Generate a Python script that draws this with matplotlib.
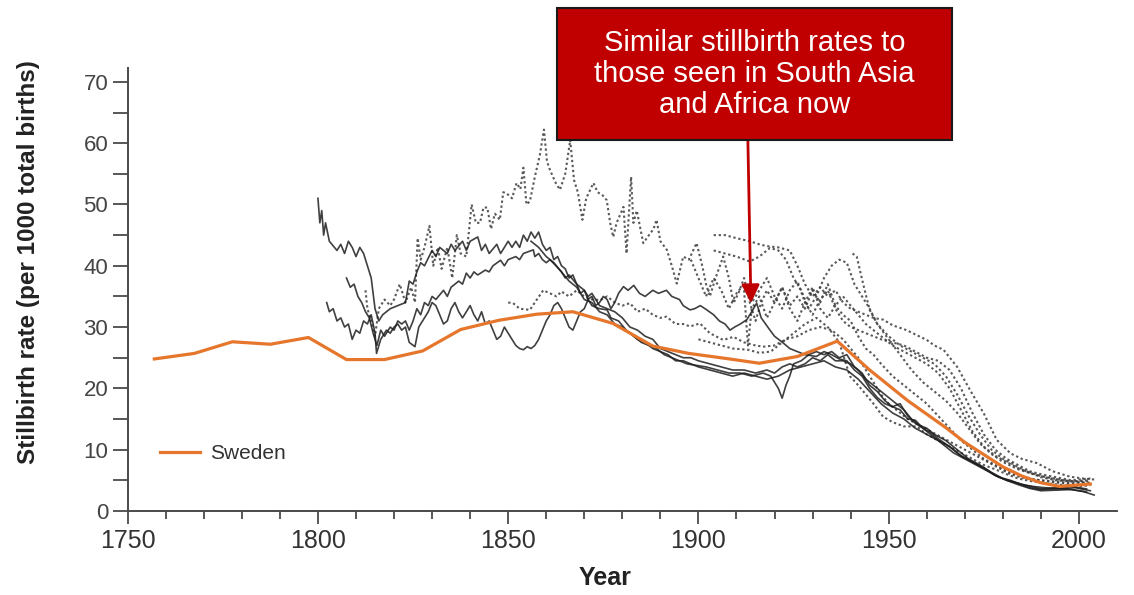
import matplotlib
matplotlib.use("Agg")
import matplotlib.pyplot as plt
from matplotlib import font_manager
from matplotlib.patches import Rectangle

plt.rcParams["font.family"] = ["Liberation Sans", "DejaVu Sans"]

# Sweden (orange, highlighted)
SWEDEN = [(1757, 24.8), (1767.5, 25.7), (1777.5, 27.6), (1787.5, 27.2), (1797.5, 28.3),
          (1807.5, 24.7), (1817.5, 24.7), (1827.5, 26.1), (1837.5, 29.6), (1847.5, 31.1),
          (1857.5, 32.1), (1867, 32.5), (1877.5, 30.6), (1888, 26.9), (1897.5, 25.7),
          (1907, 24.9), (1916, 24.1), (1926, 25.2), (1936.5, 27.7), (1945, 23.0),
          (1955, 18.0), (1960, 15.8), (1965, 13.6), (1970, 11.2), (1975, 9.2),
          (1980, 7.2), (1985, 5.7), (1990, 4.6), (1995, 4.0), (2003, 4.4)]

# other countries, solid traces
SOLID_A = [(1800, 51), (1800.5, 47), (1801, 49), (1801.5, 45), (1802, 47), (1803, 44),
           (1805, 42.5), (1806, 43.5), (1807, 42), (1808, 44), (1809, 43), (1810, 41.5),
           (1811, 43), (1812, 42), (1813, 40), (1814, 38), (1815, 33), (1816, 31),
           (1817, 32), (1819, 33), (1821, 33.5), (1823, 34), (1824, 37.5), (1825, 37),
           (1826, 39), (1827, 40.5), (1828, 40), (1830, 42.5), (1831, 41.5), (1832, 43),
           (1834, 42), (1835, 43.5), (1836, 42.5), (1838, 44), (1839, 42.5), (1840, 44),
           (1842, 44.7), (1843, 42.5), (1844, 43.5), (1845, 42), (1847, 43.5), (1848, 42),
           (1850, 44), (1851, 43), (1852, 44), (1853, 43), (1854, 45), (1855, 44),
           (1856, 45.5), (1857, 44.5), (1858, 45.5), (1859, 43.5), (1860, 42.5), (1861, 43),
           (1862, 41), (1863, 41.5), (1864, 40), (1865, 39.5), (1866, 38), (1867, 38.5),
           (1868, 37), (1870, 36), (1871, 35), (1872, 35.5), (1874, 33.5), (1876, 33),
           (1878, 32.5), (1880, 31.5), (1882, 30), (1884, 29.5), (1886, 28.5), (1888, 28),
           (1890, 26.5), (1892, 26), (1894, 25.5), (1896, 25), (1898, 25), (1900, 24.5),
           (1903, 24), (1906, 23.5), (1909, 23), (1912, 23), (1915, 22.5), (1918, 23),
           (1920, 22.5), (1922, 23.5), (1924, 24), (1926, 23.5), (1928, 24), (1930, 25),
           (1932, 24.5), (1934, 25.5), (1936, 24.5), (1938, 24.5), (1940, 24), (1942, 23),
           (1944, 21.5), (1946, 20.5), (1948, 19.5), (1950, 18.5), (1952, 17.5), (1954, 16.5),
           (1956, 15), (1958, 14), (1960, 13.5), (1962, 12.5), (1965, 11.5), (1968, 10),
           (1971, 8.5), (1974, 7.5), (1977, 6.3), (1980, 5.3), (1983, 4.7), (1986, 4.2),
           (1990, 3.6), (1994, 3.8), (1998, 3.5), (2001, 3.2), (2004, 2.6)]
SOLID_B = [(1807.5, 38), (1808.5, 36.5), (1809.5, 37), (1810.5, 35), (1811.5, 34),
           (1812.5, 32.5), (1813.5, 31.5), (1814.5, 29), (1815.5, 27), (1816.5, 29.5),
           (1817.5, 28.5), (1819, 30), (1820, 29.5), (1821, 31), (1822, 30.5), (1823, 31),
           (1824, 29.5), (1825, 31), (1826, 33), (1827, 32), (1828, 34), (1829, 33.5),
           (1830, 35), (1831, 34.5), (1833, 36), (1834, 35), (1835, 36.5), (1837, 37.5),
           (1838, 37), (1839, 38.8), (1840, 38), (1841, 39), (1842, 38.5), (1844, 39.3),
           (1845, 39), (1846, 40), (1848, 40.9), (1849, 40), (1850, 41), (1852, 41.5),
           (1853, 41), (1854, 42), (1856.6, 42.6), (1857, 41.5), (1858, 42), (1859, 41),
           (1860, 40.5), (1861, 41), (1862.7, 39.9), (1864, 39), (1865, 38), (1866, 38.5),
           (1868, 37), (1869, 35.5), (1870, 36), (1871, 34.5), (1872, 33.5), (1874, 33),
           (1876, 32.8), (1877, 31.5), (1879, 31), (1881, 29.5), (1883, 28.5), (1885, 27.5),
           (1887, 27), (1889, 26.5), (1891, 25.5), (1893, 25), (1895, 24.5), (1897, 24),
           (1899, 23.8), (1902, 23.5), (1905, 23), (1908, 22.5), (1911, 22.5), (1914, 22),
           (1917, 22.5), (1919, 22), (1920, 21), (1921, 20), (1922, 18.4), (1923, 20.5),
           (1924, 22), (1925, 24), (1927, 24.5), (1929, 25.5), (1931, 26), (1933, 25.5),
           (1935, 26), (1937, 25), (1939, 25.5), (1941, 23.5), (1943, 22.5), (1945, 20.5),
           (1947, 19.5), (1949, 18), (1951, 17), (1953, 16.5), (1955, 15), (1957, 14.8),
           (1959, 13.5), (1961, 12.5), (1964, 11), (1967, 9.5), (1970, 8.5), (1973, 7.5),
           (1976, 6.5), (1979, 5.5), (1982, 5), (1985, 4.3), (1988, 4), (1991, 3.8),
           (1995, 3.6), (1999, 3.8), (2003, 3.3)]
SOLID_C = [(1802.3, 34), (1803, 32.5), (1804, 33), (1805, 31), (1806, 31.5), (1807, 30),
           (1808, 30.5), (1809, 28), (1810, 29.5), (1811, 29), (1812, 31), (1813, 30.5),
           (1814, 32), (1815, 29), (1815.4, 25.7), (1816.5, 28), (1818, 29.5), (1819, 29),
           (1820, 30), (1821, 30.5), (1822, 29.5), (1823, 30), (1824, 27.5), (1825.5, 26.8),
           (1826.5, 30), (1827.5, 31), (1829, 32.5), (1830, 34), (1831, 33.5), (1832, 32),
           (1833, 30.5), (1834, 31), (1835, 33), (1836, 34), (1837, 32.5), (1838, 31.5),
           (1839, 32.5), (1840, 33.5), (1841, 32), (1842, 31), (1843, 32.5), (1844, 30.5),
           (1845, 31), (1846, 29.5), (1847, 28), (1848, 28.5), (1849, 30), (1850, 29),
           (1851, 28), (1852, 27), (1853, 26.5), (1854, 26.3), (1855, 26.8), (1856, 26.5),
           (1857, 27), (1858, 28), (1859, 29.5), (1860, 31), (1861, 32), (1862, 33.5),
           (1863, 34), (1864, 33), (1865, 31.5), (1866, 30), (1867, 29.5), (1868, 31),
           (1869, 32.5), (1870, 33), (1871, 34.5), (1872, 35), (1873, 33.5), (1874, 34),
           (1875, 35), (1876, 34.5), (1877, 33), (1878, 34), (1879, 35.5), (1880.3, 36.6),
           (1881.5, 36), (1883, 36.8), (1884.5, 35.5), (1886, 35), (1888, 36), (1889.5, 35.5),
           (1891.6, 36), (1893, 35), (1895, 34.5), (1896, 33.5), (1897.8, 32.8), (1899, 33),
           (1900.5, 33.5), (1902.2, 32.8), (1904, 32), (1905.5, 31), (1907, 30.5),
           (1908.3, 29.5), (1909.5, 30), (1911, 30.5), (1912.7, 31.2), (1914, 32.5),
           (1915.3, 33.9), (1916.5, 31.5), (1918.8, 29.5), (1920, 28.5), (1922.3, 27.4),
           (1924, 26.5), (1926, 26), (1928, 25.5), (1931, 25.2), (1933, 26), (1935, 25.5),
           (1937, 24.8), (1939, 24.5), (1941, 23), (1943, 22), (1945, 20), (1947, 18.5),
           (1949, 17.5), (1951, 17), (1953, 17.5), (1955, 15.5), (1957, 14.3), (1959, 13.5),
           (1961, 12.8), (1963, 11.8), (1966, 10.5), (1969, 9), (1972, 8), (1975, 7),
           (1978, 5.8), (1981, 5), (1984, 4.5), (1987, 3.8), (1990, 3.5), (1994, 3.6),
           (1998, 4), (2002, 3.6)]
SOLID_D = [(1856, 44), (1858, 43), (1860, 41.5), (1862, 40.5), (1864, 39), (1866, 37.5),
           (1868, 36.5), (1870, 34.5), (1872, 34), (1874, 32.5), (1876, 32), (1878, 30.5),
           (1880, 30), (1882, 29), (1884, 28), (1886, 27.5), (1888, 26.5), (1890, 26),
           (1892, 25.5), (1894, 24.5), (1896, 24.5), (1898, 24), (1900, 23.5), (1903, 23),
           (1906, 22.5), (1909, 22), (1912, 22.5), (1915, 22), (1918, 21.5), (1921, 22),
           (1924, 23), (1927, 23.5), (1930, 24), (1933, 24.5), (1936, 23.5), (1939, 23),
           (1942, 21.5), (1945, 19.5), (1948, 17.5), (1951, 16), (1954, 15), (1957, 13.5),
           (1960, 12.5), (1963, 11.5), (1966, 10.5), (1969, 9), (1972, 8), (1975, 7),
           (1978, 5.8), (1981, 5), (1984, 4.3), (1987, 3.7), (1990, 3.3), (1994, 3.4),
           (1998, 3.5), (2002, 3.1)]

# other countries, dotted traces
DOT_A = [(1812.5, 36), (1813, 33), (1814, 31), (1815, 28.5), (1816, 33), (1817.5, 34.5),
         (1819, 33.5), (1820, 34.5), (1821.5, 37), (1823, 34), (1824.5, 36.5), (1825.5, 34),
         (1826.2, 44.5), (1827, 41), (1828, 43), (1829.3, 46.5), (1830.3, 40), (1831.5, 43),
         (1832.5, 39.5), (1834, 43), (1835.3, 38), (1836.5, 45), (1837.5, 42), (1839, 41.5),
         (1840.4, 50), (1841.5, 47), (1842.6, 47), (1843.5, 49.5), (1844.5, 49.5),
         (1845.5, 46), (1846.5, 48.5), (1847.8, 47.5), (1848.7, 52), (1849.6, 51.8),
         (1851, 51), (1852.2, 53.5), (1853.2, 52.5), (1854, 56), (1854.8, 50), (1855.7, 50.5),
         (1857, 54.5), (1858.3, 58), (1859.4, 62.2), (1860.2, 57), (1861, 55.6),
         (1862.5, 53.5), (1863.6, 52.4), (1865, 55), (1866.3, 60.5), (1867.3, 54),
         (1868.3, 52), (1869.5, 47.5), (1870.5, 51), (1872.4, 53.5), (1873.5, 52),
         (1874.8, 51.5), (1875.9, 50.7), (1876.8, 47), (1877.6, 44.7), (1878.5, 47),
         (1880.3, 49.6), (1881.1, 42), (1882.3, 54.5), (1882.9, 47), (1883.8, 49),
         (1885.5, 43.7), (1887, 45), (1888.2, 46), (1889, 47.5), (1890, 44), (1891.7, 42.6),
         (1893, 40), (1894.3, 37.1), (1896, 41.5), (1897.5, 41), (1899.5, 43.7), (1901, 40),
         (1902, 37), (1903, 35), (1904.5, 38), (1906.5, 41.5), (1908, 38), (1909.2, 33.9),
         (1910.5, 35.5), (1912, 38), (1913.5, 34), (1915, 31), (1916.5, 34), (1918, 36),
         (1920, 34), (1922, 36.5), (1924, 33.5), (1926, 35), (1928, 33), (1930, 36),
         (1932, 34), (1934, 37), (1936, 33.5), (1938, 35), (1940, 33.5), (1942, 32),
         (1944, 30.5), (1946, 29.5), (1948, 28.5), (1951, 27), (1954, 26), (1957, 25),
         (1960, 24), (1963, 22.5), (1966, 20), (1969, 16.5), (1972, 13), (1975, 10.5),
         (1978, 9), (1981, 8), (1984, 7), (1987, 6.3), (1990, 5.5), (1994, 5), (1998, 4.8),
         (2002, 5)]
DOT_B = [(1904, 45), (1907, 45), (1910, 44.5), (1913.5, 44), (1916, 43.5), (1918, 43.2),
         (1921, 43), (1924, 42.5), (1926, 40), (1928, 37), (1930, 35), (1932, 36.5),
         (1934, 35), (1936, 36), (1938, 34), (1940, 33), (1942, 32.5), (1944, 32),
         (1946, 31.5), (1948.6, 31.2), (1951, 30.3), (1954.7, 29.5), (1957, 28.8),
         (1960, 27.9), (1962, 27), (1964.4, 26.3), (1968, 23.5), (1971.4, 19.7), (1975, 15.9),
         (1978.4, 11.6), (1982, 9.4), (1985, 8.5), (1989, 7.8), (1993, 6.5), (1997.6, 5.6),
         (2001, 5.3), (2004.7, 5.1)]
DOT_C = [(1904, 42.5), (1907, 42), (1910, 41.5), (1913.5, 40.7), (1916, 41.5),
         (1918.8, 42.9), (1921, 42.5), (1923, 41), (1925, 38), (1927, 36), (1929, 33),
         (1931, 35), (1933, 38), (1935, 40), (1937, 41), (1939, 40.5), (1941, 37), (1943, 35),
         (1945, 33), (1947, 30.5), (1950, 28.5), (1953, 27), (1956, 26), (1959, 25),
         (1962, 24), (1965, 22), (1968, 19), (1971, 15.5), (1974, 12.5), (1977, 10),
         (1980, 8.5), (1983, 7.5), (1986, 6.5), (1990, 5.7), (1994, 5.2), (1998, 4.8),
         (2003, 4.6)]
DOT_D = [(1940.5, 42), (1941.6, 41.5), (1943.3, 37), (1945, 32.8), (1947, 30.5), (1950, 28),
         (1953, 25.5), (1956, 23), (1959, 21), (1962, 19.5), (1965, 18), (1968, 16),
         (1971, 13.5), (1974, 11), (1977, 9.3), (1980, 8), (1984, 6.8), (1988, 6),
         (1992, 5.4), (1996, 5), (2000, 4.8), (2003, 4.9)]
DOT_E = [(1850, 34), (1851.3, 33.9), (1853, 33), (1855.7, 32.8), (1857, 34), (1859.2, 36),
         (1861, 35.5), (1862.7, 35), (1864, 35.8), (1866, 35), (1868, 36), (1870, 35),
         (1872, 34.5), (1874.2, 34.4), (1876, 35), (1878, 34), (1880, 33.5), (1882, 33.9),
         (1884, 32.5), (1886, 33), (1888, 32), (1890, 31.5), (1891.6, 31.7), (1894, 30.5),
         (1896, 30.5), (1897.8, 30.1), (1900.4, 30.6), (1903, 29), (1906.5, 27.9),
         (1909.2, 28.4), (1912, 27.5), (1915, 27), (1917, 26.8), (1920, 27), (1923, 28),
         (1926, 28.5), (1929, 29.5), (1932, 30), (1935, 29.5), (1938, 28), (1940, 26.5),
         (1942, 25), (1944, 23), (1946, 21), (1948, 19), (1950, 17.5), (1952, 16.5),
         (1955, 15), (1958, 14), (1961, 13), (1964, 12), (1967, 11), (1970, 10), (1973, 9),
         (1976, 8), (1979, 7), (1982, 6), (1986, 5.3), (1990, 5), (1994, 4.8), (1998, 4.5),
         (2002, 4.6)]
DOT_F = [(1900, 28), (1903, 27.5), (1906, 27), (1909, 26.5), (1913, 26.3), (1916, 25.8),
         (1919, 26), (1922, 27.5), (1925, 29), (1928, 30.5), (1931, 31.5), (1934, 30),
         (1937, 27.5), (1939.8, 22), (1942, 20.5), (1944, 19), (1946, 17.5), (1948.5, 15.4),
         (1951, 14.5), (1954, 13.8), (1957.4, 13.8), (1960, 12.5), (1963, 11.5),
         (1966, 10.5), (1969, 9.5), (1972, 8.5), (1975, 7.5), (1978, 6.8), (1981, 6),
         (1984, 5.3), (1988, 4.8), (1992, 4.5), (1996, 4.2), (2000, 4), (2003, 4.2)]
DOT_G = [(1898, 41), (1900, 38), (1902, 35), (1904, 38), (1906, 36), (1908, 33),
         (1910, 35.5), (1912, 37), (1914, 34), (1916, 36), (1918, 38), (1920, 35), (1922, 33),
         (1924, 36), (1926, 37.5), (1928, 34), (1930, 32), (1932, 34.5), (1934, 36),
         (1936, 33), (1938, 31), (1940, 30), (1942, 29.5), (1944, 29), (1946, 28.5),
         (1948, 28), (1951, 27.5), (1954, 27), (1957, 26), (1960, 25), (1963, 24.5),
         (1966, 23), (1969, 20), (1972, 16), (1975, 12.5), (1978, 10), (1981, 8.5),
         (1984, 7.5), (1987, 6.5), (1990, 6), (1994, 5.5), (1998, 5), (2003, 5.3)]
DOT_H = [(1912, 36), (1913, 27), (1914, 33), (1916, 35), (1918, 31.5), (1920, 34),
         (1922, 36.5), (1924, 33), (1926, 31), (1928, 34), (1930, 36.5), (1932, 33),
         (1934, 31.5), (1936, 33.5), (1938, 32), (1940, 31), (1942, 28.5), (1944, 26.5),
         (1946, 25.5), (1948, 24), (1951, 22), (1954, 20.5), (1957, 19), (1960, 17.5),
         (1963, 15.5), (1966, 13.5), (1969, 11.5), (1972, 10), (1975, 8.5), (1978, 7.5),
         (1981, 6.5), (1984, 5.8), (1988, 5.2), (1992, 4.8), (1996, 4.5), (2000, 4.3),
         (2003, 4.5)]

SOLID_SERIES = [SOLID_A, SOLID_B, SOLID_C, SOLID_D]
DOTTED_SERIES = [DOT_A, DOT_B, DOT_C, DOT_D, DOT_E, DOT_F, DOT_G, DOT_H]

X_MAJOR = [1750, 1800, 1850, 1900, 1950, 2000]
Y_MAJOR = [0, 10, 20, 30, 40, 50, 60, 70]
NOTE = "Similar stillbirth rates to\nthose seen in South Asia\nand Africa now"
ARROW_TIP = (1913.8, 33.9)
ARROW_TAIL = (1913.0, 60.3)

ORANGE = "#E5762C"
RED = "#C00000"
AXIS_GREY = "#4a4a4a"

installed = {f.name for f in font_manager.fontManager.ttflist}
if "Liberation Sans Narrow" in installed:
    ylabel_font, ylabel_size = "Liberation Sans Narrow", 21
else:
    ylabel_font, ylabel_size = "Liberation Sans", 17.5

fig = plt.figure(figsize=(11.34, 5.95), dpi=100)
ax = fig.add_axes([0.1126, 0.1412, 0.8724, 0.7439])

for series in DOTTED_SERIES:
    years, rates = zip(*series)
    ax.plot(years, rates, color="#3c3c3c", lw=1.5, linestyle=(0, (1.1, 1.3)), alpha=0.85)
for series in SOLID_SERIES:
    years, rates = zip(*series)
    ax.plot(years, rates, color="#1e1e1e", lw=1.2, alpha=0.85)

years, rates = zip(*SWEDEN)
(sweden_line,) = ax.plot(years, rates, color=ORANGE, lw=2.3, label="Sweden", zorder=5)

ax.set_xlim(1750, 2010)
ax.set_ylim(0, 72.2)
ax.set_xticks(X_MAJOR)
ax.set_xticks([y for y in range(1760, 2010, 10) if y not in X_MAJOR], minor=True)
ax.set_yticks(Y_MAJOR)
ax.set_yticks(list(range(5, 70, 10)), minor=True)

for side in ("top", "right"):
    ax.spines[side].set_visible(False)
for side in ("left", "bottom"):
    ax.spines[side].set_color(AXIS_GREY)
    ax.spines[side].set_linewidth(1.4)

ax.tick_params(axis="x", which="major", length=9, width=1.3, color=AXIS_GREY,
               labelsize=18, labelcolor="#333333", pad=4)
ax.tick_params(axis="x", which="minor", length=6, width=1.3, color=AXIS_GREY)
ax.tick_params(axis="y", which="both", length=11, width=1.3, color=AXIS_GREY,
               labelsize=16, labelcolor="#444444", pad=3)

ax.legend(handles=[sweden_line], loc="center left", bbox_to_anchor=(0.0327, 0.129),
          frameon=False, borderpad=0, borderaxespad=0, handlelength=1.9,
          handletextpad=0.5, fontsize=15, labelcolor="#333333")

ax.annotate("", xy=ARROW_TIP, xytext=ARROW_TAIL,
            arrowprops=dict(arrowstyle="-|>,head_length=0.55,head_width=0.27",
                            color=RED, lw=2, mutation_scale=20, shrinkA=0, shrinkB=0))

fig.add_artist(Rectangle((557 / 1134, 1 - 140 / 595), 395 / 1134, 132 / 595,
                         transform=fig.transFigure, facecolor=RED,
                         edgecolor="#1a1a1a", lw=1.5))
fig.text(0.6653, 0.8756, NOTE, ha="center", va="center", fontsize=21,
         color="white", linespacing=1.15)

fig.text(0.025, 0.56, "Stillbirth rate (per 1000 total births)", rotation=90,
         ha="center", va="center", fontsize=ylabel_size, fontweight="bold",
         family=[ylabel_font, "DejaVu Sans"], color="#222222")
fig.text(0.534, 0.029, "Year", ha="center", va="center", fontsize=18,
         fontweight="bold", color="#222222")

fig.savefig("out.png", dpi=100)
